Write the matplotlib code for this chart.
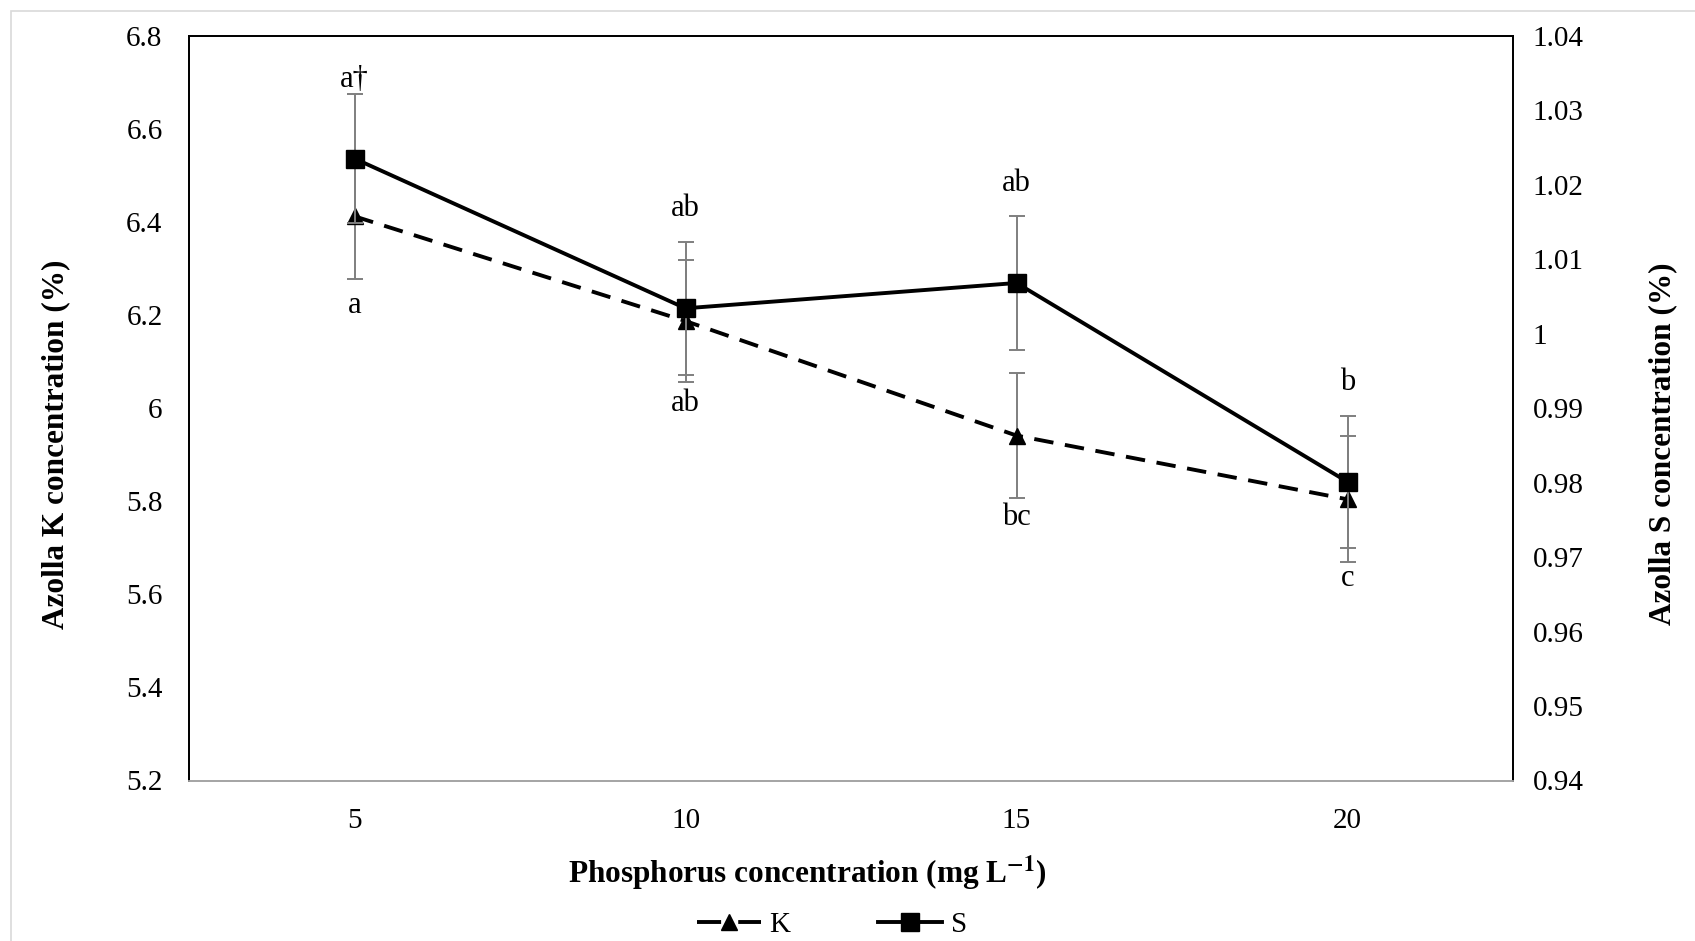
import matplotlib
matplotlib.use("Agg")
import matplotlib.pyplot as plt
from matplotlib.lines import Line2D
from matplotlib.patches import Rectangle

# phosphorus levels (mg/L) and tissue concentrations
phosphorus = [5, 10, 15, 20]
k_mean = [6.412, 6.187, 5.941, 5.804]
k_err = [0.135, 0.132, 0.135, 0.135]
s_mean = [1.0235, 1.0034, 1.0068, 0.9801]
s_err = [0.0087, 0.0089, 0.0090, 0.0089]
k_letters = ["a", "ab", "bc", "c"]
s_letters = ["a\u2020", "ab", "ab", "b"]

W, H, DPI = 1695, 941, 100
plt.rcParams.update(
    {
        "font.family": ["Liberation Serif", "DejaVu Serif"],
        "mathtext.fontset": "stix",
    }
)

fig = plt.figure(figsize=(W / DPI, H / DPI), dpi=DPI)

# light frame around the whole figure
fig.patches.append(
    Rectangle((11 / W, -0.1), 1.2, 1 - 11 / H + 0.1, transform=fig.transFigure,
              fill=False, edgecolor="#d9d9d9", linewidth=1.2)
)

left, right, top, bottom = 189, 1513, 35.7, 780.5
ax = fig.add_axes([left / W, 1 - bottom / H, (right - left) / W, (bottom - top) / H])
ax2 = ax.twinx()

err_kw = dict(ecolor="#7f7f7f", elinewidth=1.4, capsize=6, capthick=1.4)

ax.errorbar(phosphorus, k_mean, yerr=k_err, fmt="none", zorder=2, **err_kw)
ax.plot(phosphorus, k_mean, color="black", linewidth=2.8, dashes=(5, 3),
        marker="^", markersize=12, zorder=3)

ax2.errorbar(phosphorus, s_mean, yerr=s_err, fmt="none", zorder=2, **err_kw)
ax2.plot(phosphorus, s_mean, color="black", linewidth=2.8,
         marker="s", markersize=13, zorder=3)

ax.set_xlim(2.5, 22.5)
ax.set_ylim(5.2, 6.8)
ax2.set_ylim(0.94, 1.04)
ax.set_xticks(phosphorus)
ax.set_yticks([5.2, 5.4, 5.6, 5.8, 6.0, 6.2, 6.4, 6.6, 6.8])
ax.set_yticklabels(["5.2", "5.4", "5.6", "5.8", "6", "6.2", "6.4", "6.6", "6.8"])
ax2.set_yticks([0.94, 0.95, 0.96, 0.97, 0.98, 0.99, 1.0, 1.01, 1.02, 1.03, 1.04])
ax2.set_yticklabels(["0.94", "0.95", "0.96", "0.97", "0.98", "0.99", "1",
                     "1.01", "1.02", "1.03", "1.04"])

ax.tick_params(axis="x", length=0, pad=20, labelsize=21)
ax.tick_params(axis="y", length=0, pad=19, labelsize=21)
ax2.tick_params(axis="y", length=0, pad=14, labelsize=21)

for a in (ax, ax2):
    for side in ("left", "right", "top"):
        a.spines[side].set_color("black")
        a.spines[side].set_linewidth(1.3)
    a.spines["bottom"].set_color("#a6a6a6")
    a.spines["bottom"].set_linewidth(1.3)

# significance letters: S above the upper cap, K below the lower cap
s_offsets = [10, 24, 23, 24]
k_offsets = [19, 15, 14, 12]
for x, y, e, lab, off in zip(phosphorus, s_mean, s_err, s_letters, s_offsets):
    ax2.annotate(lab, (x, y + e), xytext=(0, off), textcoords="offset points",
                 ha="center", va="center", fontsize=22)
for x, y, e, lab, off in zip(phosphorus, k_mean, k_err, k_letters, k_offsets):
    ax.annotate(lab, (x, y - e), xytext=(0, -off), textcoords="offset points",
                ha="center", va="center", fontsize=22)

label_kw = dict(fontsize=22.5, fontweight="bold", ha="center", va="center")
fig.text(56 / W, 1 - 444 / H, "Azolla K concentration (%)", rotation=90, **label_kw)
fig.text(1663 / W, 1 - 444 / H, "Azolla S concentration (%)", rotation=90, **label_kw)
fig.text(807 / W, 1 - 873 / H, "Phosphorus concentration (mg L$^{\\mathbf{\u2212}\\mathbf{1}}$)",
         **label_kw)

handles = [
    Line2D([], [], color="black", linewidth=2.8, dashes=(6.2, 4.4), marker="^", markersize=12),
    Line2D([], [], color="black", linewidth=2.8, marker="s", markersize=13),
]
fig.legend(handles, ["K", "S"], loc="center", bbox_to_anchor=(832 / W, 1 - 925 / H),
           ncol=2, frameon=False, fontsize=21, handlelength=2.2, handletextpad=0.3,
           columnspacing=3.0)

fig.savefig("out.png", dpi=DPI)
